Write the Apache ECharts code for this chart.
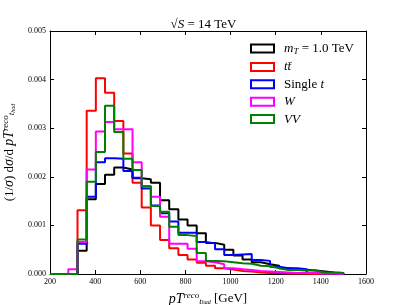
<!DOCTYPE html>
<html><head><meta charset="utf-8">
<script src="https://cdn.jsdelivr.net/npm/echarts@6/dist/echarts.min.js"></script>
<style>html,body{margin:0;padding:0;background:#fff}#c{width:407px;height:305px}</style>
</head><body><div id="c"></div>
<script>
// bin edges (GeV), 32 bins from 200 to 1500
const binEdges = [200, 240.625, 281.25, 321.875, 362.5, 403.125, 443.75, 484.375, 525, 565.625, 606.25, 646.875, 687.5, 728.125, 768.75, 809.375, 850, 890.625, 931.25, 971.875, 1012.5, 1053.125, 1093.75, 1134.375, 1175, 1215.625, 1256.25, 1296.875, 1337.5, 1378.125, 1418.75, 1459.375, 1500];
const seriesNames = ['mT', 'tt', 'single', 'W', 'VV'];
const valMT     = [0,0,0,0.00048,0.00154,0.00185,0.00204,0.00219,0.00215,0.00197,0.00195,0.00188,0.00152,0.00133,0.00112,0.00100,0.00084,0.00064,0.00060,0.00050,0.00038,0.00030,0.00024,0.00020,0.00017,0.00012,0.00010,0.00009,0.00007,0.00005,0.00003,0.00002];
const valTT     = [0,0,0,0.00131,0.00336,0.00403,0.00373,0.00315,0.00248,0.00188,0.00137,0.00100,0.00070,0.00053,0.00039,0.00030,0.00023,0.00017,0.00012,0.00009,0.00006,0.00005,0.00003,0.00002,0.00002,0.00001,0.00001,0.00001,0,0,0,0];
const valSingle = [0,0,0,0.00062,0.00159,0.00230,0.00238,0.00237,0.00212,0.00198,0.00176,0.00141,0.00125,0.00108,0.00085,0.00085,0.00066,0.00063,0.00051,0.00039,0.00040,0.00041,0.00029,0.00027,0.00015,0.00012,0.00012,0.00010,0.00002,0.00001,0.00001,0];
const valW      = [0,0,0.00010,0.00066,0.00215,0.00293,0.00313,0.00298,0.00298,0.00230,0.00181,0.00159,0.00118,0.00062,0.00062,0.00052,0.00026,0.00024,0.00020,0.00012,0.00010,0.00008,0.00006,0.00005,0.00004,0.00003,0.00002,0.00002,0.00002,0.00001,0.00001,0];
const valVV     = [0,0,0,0.00071,0.00190,0.00251,0.00346,0.00292,0.00237,0.00214,0.00180,0.00140,0.00128,0.00097,0.00080,0.00078,0.00043,0.00027,0.00026,0.00024,0.00022,0.00021,0.00017,0.00016,0.00012,0.00008,0.00008,0.00007,0.00007,0.00003,0.00003,0.00002];
const colors = ['#000000', '#ff0000', '#0000ff', '#ff00ff', '#008000'];
const xTicks = [200, 400, 600, 800, 1000, 1200, 1400, 1600];
const yTicks = [0, 0.001, 0.002, 0.003, 0.004, 0.005];

function stepData(vals) {
  const d = [];
  for (let i = 0; i < vals.length; i++) d.push([binEdges[i], vals[i]]);
  d.push([binEdges[vals.length], vals[vals.length - 1]]);
  d.push([binEdges[vals.length], 0]);
  return d;
}
const allVals = [valMT, valTT, valSingle, valW, valVV];
const serif = 'Liberation Serif';
const legendText = {
  mT: '{i|m}{sub|T}{r| = 1.0 TeV}',
  tt: '{i|tt\u0304}',
  single: '{r|Single }{i|t}',
  W: '{i|W}',
  VV: '{i|VV}'
};
const chart = echarts.init(document.getElementById('c'), null, {renderer: 'canvas'});
const axisCommon = {
  type: 'value',
  axisLine: {show: true, onZero: false, lineStyle: {color: '#000', width: 1}},
  axisTick: {show: true, inside: true, length: 4, lineStyle: {color: '#000'}},
  splitLine: {show: false}
};
const richLabel = {
  i: {fontFamily: serif, fontStyle: 'italic', fontSize: 14, lineHeight: 16},
  r: {fontFamily: serif, fontSize: 13, lineHeight: 16},
  sup: {fontFamily: serif, fontStyle: 'italic', fontSize: 9, lineHeight: 16, padding: [0,0,7,0]},
  sub: {fontFamily: serif, fontStyle: 'italic', fontSize: 9, lineHeight: 16, padding: [5,0,0,0]},
  subsub: {fontFamily: serif, fontStyle: 'italic', fontSize: 6, lineHeight: 16, padding: [8,0,0,0]}
};
chart.setOption({
  animation: false,
  title: {
    text: '\u221A{i|S}{r| = 14 TeV}',
    left: 'center', top: 13,
    textStyle: {fontFamily: serif, fontSize: 13, fontWeight: 'normal', color: '#000',
      rich: {i: {fontFamily: serif, fontStyle: 'italic', fontSize: 13}, r: {fontFamily: serif, fontSize: 13}}}
  },
  grid: {left: 50, right: 41, top: 31, bottom: 31, outerBoundsMode: 'none', containLabel: false},
  legend: {
    orient: 'vertical', left: 245, top: 36, itemWidth: 25, itemHeight: 10, itemGap: 4.4,
    icon: 'path://M0,0H25V10H0Z M2,2V8H23V2Z',
    data: seriesNames,
    formatter: n => legendText[n],
    textStyle: {fontFamily: serif, fontSize: 13, color: '#000', padding: [0,0,0,4],
      rich: {
        i: {fontFamily: serif, fontStyle: 'italic', fontSize: 13, lineHeight: 14},
        r: {fontFamily: serif, fontSize: 13, lineHeight: 14},
        sub: {fontFamily: serif, fontStyle: 'italic', fontSize: 9, padding: [6,0,0,0], lineHeight: 14}
      }}
  },
  xAxis: [
    Object.assign({}, axisCommon, {position: 'bottom', min: 200, max: 1600, interval: 200,
      axisLabel: {fontFamily: serif, fontSize: 8, color: '#000', margin: 4, formatter: v => String(v)},
      name: '{i|pT}{sup|reco}{sub|t}{subsub|had}{r| [GeV]}', nameLocation: 'middle', nameGap: 10,
      nameTextStyle: {fontFamily: serif, fontSize: 13, color: '#000', rich: richLabel}}),
    Object.assign({}, axisCommon, {position: 'top', min: 200, max: 1600, interval: 200, axisLabel: {show: false}})
  ],
  yAxis: [
    Object.assign({}, axisCommon, {position: 'left', min: 0, max: 0.005, interval: 0.001,
      axisLabel: {fontFamily: serif, fontSize: 8, color: '#000', margin: 4, formatter: v => v.toFixed(3)},
      name: '{r|(1/}{i|\u03C3}{r|) d}{i|\u03C3}{r|/d }{i|pT}{sup|reco}{sub|t}{subsub|had}',
      nameLocation: 'middle', nameGap: 27, nameRotate: 90,
      nameTextStyle: {fontFamily: serif, fontSize: 13, color: '#000', rich: richLabel}}),
    Object.assign({}, axisCommon, {position: 'right', min: 0, max: 0.005, interval: 0.001, axisLabel: {show: false}})
  ],
  series: seriesNames.map((n, i) => ({
    name: n, type: 'line', step: 'end', data: stepData(allVals[i]),
    showSymbol: false, symbol: 'none', clip: true,
    itemStyle: {color: colors[i]},
    lineStyle: {color: colors[i], width: 2}
  }))
});
</script></body></html>
